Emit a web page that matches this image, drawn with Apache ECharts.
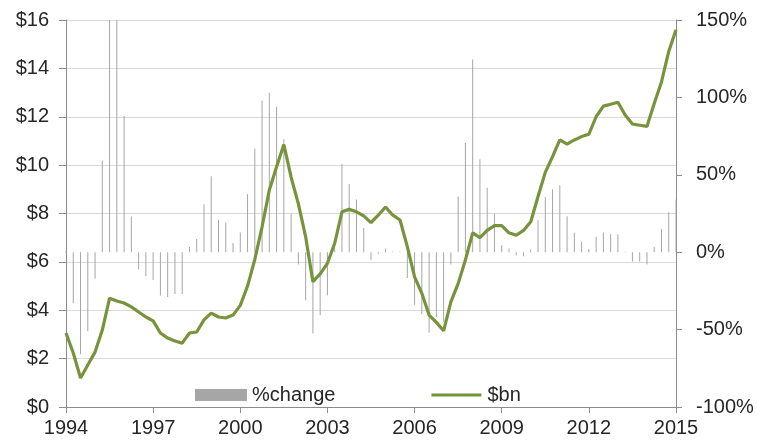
<!DOCTYPE html>
<html>
<head>
<meta charset="utf-8">
<script src="https://cdn.jsdelivr.net/npm/echarts@6/dist/echarts.min.js"></script>
<style>
  html, body { margin: 0; padding: 0; background: #fff; }
  #chart { width: 758px; height: 443px; }
</style>
</head>
<body>
<div id="chart"></div>
<script>
// quarterly, 1994 Q1 .. 2015 Q1
var quarters = [];
for (var y = 1994; y <= 2015; y++) {
    for (var q = 1; q <= 4; q++) {
        quarters.push(y + ' Q' + q);
        if (y === 2015) break;
    }
}

// $bn (left axis)
var valueBn = [
    3.06, 2.23, 1.2, 1.74, 2.27, 3.18, 4.5, 4.38, 4.3, 4.14, 3.93, 3.72,
    3.56, 3.06, 2.85, 2.73, 2.64, 3.06, 3.1, 3.6, 3.88, 3.72, 3.68, 3.8,
    4.2, 5.0, 6.1, 7.45, 8.97, 9.93, 10.85, 9.5, 8.4, 7.04, 5.18, 5.5,
    5.94, 6.77, 8.07, 8.17, 8.07, 7.9, 7.62, 7.93, 8.27, 7.93, 7.73, 6.63,
    5.38, 4.7, 3.8, 3.5, 3.15, 4.35, 5.1, 6.08, 7.2, 7.0, 7.3, 7.5,
    7.5, 7.2, 7.1, 7.3, 7.66, 8.7, 9.7, 10.35, 11.04, 10.87, 11.04, 11.18,
    11.28, 12.0, 12.44, 12.52, 12.6, 12.07, 11.7, 11.65, 11.6, 12.55, 13.44, 14.7,
    15.6
];

// %change (right axis)
var pctChange = [
    1, -33, -66, -51, -17, 59, 160, 160, 88, 23, -11, -15.5,
    -18, -28, -29, -27, -27, 3.4, 8.6, 31, 49, 21, 19, 6,
    12.7, 37.5, 67, 98, 103, 94, 73, 25, -8, -31, -52.5, -40.7,
    -27.8, 3, 57, 44, 34, 15.7, -5, -1, 2.4, 0.5, 0.5, -16.6,
    -34, -40, -52, -42, -45, -8, 36, 70.6, 124.5, 60, 41.6, 25,
    4.5, 2.4, -2, -2.6, 1.7, 20.7, 35.7, 40.7, 43.3, 23.3, 12.5, 6.7,
    2, 10, 12.7, 11.6, 11.6, 0.3, -6, -6, -8, 3.4, 15, 26,
    34
];

var leftTicks = [0, 16, 2];
var rightTicks = [-100, 150, 50];

var font = 'Liberation Sans, Arial, sans-serif';
var textStyle = { color: '#262626', fontSize: 20, fontFamily: font };
var axisGray = '#8c8c8c';
var green = '#77933c';

var myChart = echarts.init(document.getElementById('chart'));
var option = {
    animation: false,
    backgroundColor: '#fff',
    textStyle: textStyle,
    grid: { left: 66, right: 82, top: 20, bottom: 36, containLabel: false },
    legend: {
        left: 190,
        top: 380,
        itemWidth: 52,
        itemHeight: 12,
        itemGap: 96,
        textStyle: textStyle,
        data: [
            { name: '%change', icon: 'rect' },
            // thin line icon, bounding box kept at full item height
            { name: '$bn', icon: 'path://M0,0h0.01v0.01h-0.01z M0,4.4h50v3.2h-50z M0,11.99h0.01v0.01h-0.01z',
              itemStyle: { color: green } }
        ]
    },
    xAxis: [{
        type: 'category',
        data: quarters,
        boundaryGap: false,
        axisLine: { lineStyle: { color: axisGray } },
        axisTick: { interval: 11, length: 6, lineStyle: { color: axisGray } },
        axisLabel: {
            interval: 11,
            margin: 11,
            color: '#262626',
            fontSize: 20,
            fontFamily: font,
            formatter: function (v) { return v.slice(0, 4); }
        },
        splitLine: { show: false }
    }],
    yAxis: [
        {
            type: 'value',
            min: leftTicks[0], max: leftTicks[1], interval: leftTicks[2],
            axisLine: { show: true, lineStyle: { color: axisGray } },
            axisTick: { show: true, length: 7, lineStyle: { color: axisGray } },
            axisLabel: { color: '#262626', fontSize: 20, fontFamily: font, margin: 17, formatter: '${value}' },
            splitLine: { lineStyle: { color: '#d9d9d9', width: 1 } }
        },
        {
            type: 'value',
            position: 'right',
            min: rightTicks[0], max: rightTicks[1], interval: rightTicks[2],
            axisLine: { show: true, lineStyle: { color: axisGray } },
            axisTick: { show: true, length: 6, lineStyle: { color: axisGray } },
            axisLabel: { color: '#262626', fontSize: 20, fontFamily: font, margin: 20, formatter: '{value}%' },
            splitLine: { show: false }
        }
    ],
    series: [
        {
            name: '%change',
            type: 'bar',
            yAxisIndex: 1,
            barWidth: 1,
            itemStyle: { color: '#a6a6a6' },
            data: pctChange
        },
        {
            name: '$bn',
            type: 'line',
            yAxisIndex: 0,
            symbol: 'none',
            lineStyle: { color: green, width: 3.2 },
            itemStyle: { color: green },
            data: valueBn
        }
    ]
};
myChart.setOption(option);
</script>
</body>
</html>
